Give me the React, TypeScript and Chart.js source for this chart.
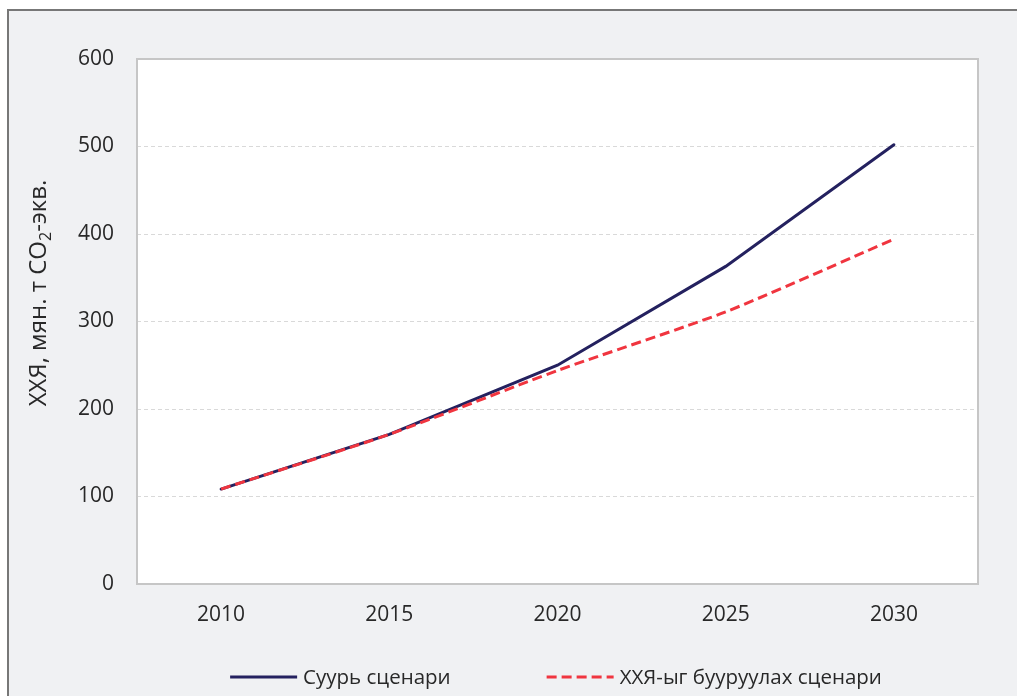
import React, { useEffect, useRef } from "react";
import { Chart, registerables } from "chart.js";

Chart.register(...registerables);

// Years on the horizontal axis
const years = ["2010", "2015", "2020", "2025", "2030"];
// Baseline scenario emissions, Mt CO2-eq
const baseline = [108.5, 171, 250, 363, 502];
// Mitigation scenario emissions, Mt CO2-eq
const mitigation = [108.5, 171, 244, 311, 394];

const seriesLabels = ["Суурь сценари", "ХХЯ-ыг бууруулах сценари"];
const axisTitleParts = ["ХХЯ, мян. т CO", "2", "-экв."];

const FONT = "'Open Sans', 'Noto Sans', sans-serif";
const TEXT = "#282828";
const NAVY = "#24215f";
const RED = "#f0353f";

// White plot area with a grey frame
const plotFrame = {
  id: "plotFrame",
  beforeDraw(chart: any) {
    const { ctx, chartArea: a } = chart;
    ctx.save();
    ctx.fillStyle = "#ffffff";
    ctx.fillRect(a.left, a.top, a.right - a.left, a.bottom - a.top);
    ctx.restore();
  },
  beforeDatasetsDraw(chart: any) {
    const { ctx, chartArea: a } = chart;
    ctx.save();
    ctx.strokeStyle = "#c6c6c6";
    ctx.lineWidth = 2;
    ctx.strokeRect(a.left, a.top, a.right - a.left, a.bottom - a.top);
    ctx.restore();
  },
};

// Vertical axis title with a subscript "2"
const axisTitle = {
  id: "axisTitle",
  afterDraw(chart: any) {
    const { ctx } = chart;
    const big = `24px ${FONT}`;
    const small = `16px ${FONT}`;
    ctx.save();
    ctx.translate(46, 293);
    ctx.rotate(-Math.PI / 2);
    ctx.fillStyle = TEXT;
    ctx.textBaseline = "alphabetic";
    ctx.textAlign = "left";
    ctx.font = big;
    const w1 = ctx.measureText(axisTitleParts[0]).width;
    const w3 = ctx.measureText(axisTitleParts[2]).width;
    ctx.font = small;
    const w2 = ctx.measureText(axisTitleParts[1]).width;
    let x = -(w1 + w2 + w3) / 2;
    ctx.font = big;
    ctx.fillText(axisTitleParts[0], x, 0);
    x += w1;
    ctx.font = small;
    ctx.fillText(axisTitleParts[1], x, 5);
    x += w2;
    ctx.font = big;
    ctx.fillText(axisTitleParts[2], x, 0);
    ctx.restore();
  },
};

// Legend row under the axis: line sample followed by its label
const bottomLegend = {
  id: "bottomLegend",
  afterDraw(chart: any) {
    const { ctx, chartArea: a } = chart;
    const sample = 67;
    const gap = 6;
    const spacing = 96;
    const y = 677;
    ctx.save();
    ctx.font = `20.5px ${FONT}`;
    const items = chart.data.datasets.map((d: any) => ({
      label: d.label,
      color: d.borderColor,
      dash: d.borderDash || [],
      w: ctx.measureText(d.label).width,
    }));
    const total =
      items.reduce((s: number, it: any) => s + sample + gap + it.w, 0) +
      spacing * (items.length - 1);
    let x = (a.left + a.right) / 2 - 1.5 - total / 2;
    for (const it of items) {
      ctx.beginPath();
      ctx.strokeStyle = it.color;
      ctx.lineWidth = 3;
      ctx.setLineDash(it.dash);
      ctx.moveTo(x, y);
      ctx.lineTo(x + sample, y);
      ctx.stroke();
      ctx.setLineDash([]);
      ctx.fillStyle = TEXT;
      ctx.textBaseline = "middle";
      ctx.textAlign = "left";
      ctx.fillText(it.label, x + sample + gap, y + 1);
      x += sample + gap + it.w + spacing;
    }
    ctx.restore();
  },
};

export default function App() {
  const canvasRef = useRef<HTMLCanvasElement | null>(null);

  useEffect(() => {
    if (!canvasRef.current) return;
    const chart = new Chart(canvasRef.current, {
      type: "line",
      data: {
        labels: years,
        datasets: [
          {
            label: seriesLabels[0],
            data: baseline,
            borderColor: NAVY,
            backgroundColor: NAVY,
            borderWidth: 3,
            pointRadius: 0,
            tension: 0,
            borderCapStyle: "round",
            order: 2,
          },
          {
            label: seriesLabels[1],
            data: mitigation,
            borderColor: RED,
            backgroundColor: RED,
            borderWidth: 3,
            borderDash: [10, 5],
            pointRadius: 0,
            tension: 0.2,
            order: 1,
          },
        ],
      },
      options: {
        responsive: false,
        animation: false,
        layout: { padding: { left: 0, top: 59, right: 39, bottom: 0 } },
        plugins: {
          legend: { display: false },
          tooltip: { enabled: false },
          title: { display: false },
        },
        scales: {
          x: {
            offset: true,
            grid: { display: false, drawTicks: false },
            border: { display: false },
            ticks: {
              color: TEXT,
              font: { family: FONT, size: 21 },
              padding: 18,
              maxRotation: 0,
            },
            afterFit: (s: any) => {
              s.height = 112;
            },
          },
          y: {
            min: 0,
            max: 600,
            grid: { color: "#d9d9d9", lineWidth: 1, drawTicks: false },
            border: { display: false, dash: [4, 3] },
            ticks: {
              stepSize: 100,
              color: TEXT,
              font: { family: FONT, size: 21 },
              padding: 23,
            },
            afterFit: (s: any) => {
              s.width = 137;
            },
          },
        },
      },
      plugins: [plotFrame, axisTitle, bottomLegend],
    });
    return () => chart.destroy();
  }, []);

  return (
    <>
      <div
        style={{
          position: "fixed",
          left: 7,
          top: 9,
          width: 1100,
          height: 800,
          background: "#f0f1f3",
          borderLeft: "2px solid #777777",
          borderTop: "2px solid #777777",
        }}
      />
      <canvas
        ref={canvasRef}
        width={1017}
        height={696}
        style={{ position: "fixed", left: 0, top: 0, width: 1017, height: 696 }}
      />
    </>
  );
}
